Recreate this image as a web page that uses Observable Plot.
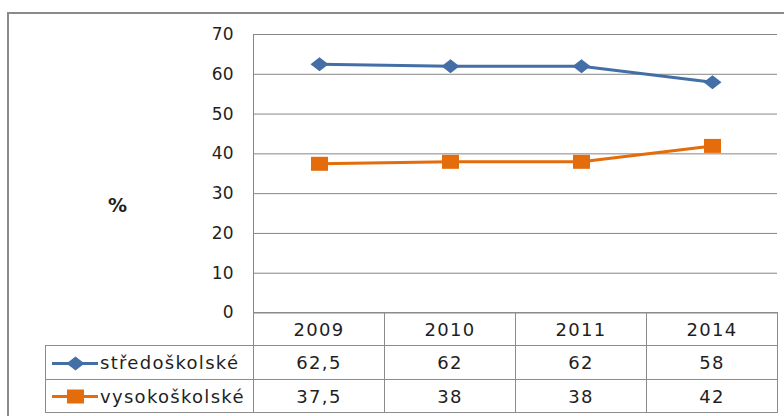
<!DOCTYPE html>
<html>
<head>
<meta charset="utf-8">
<script src="https://cdn.jsdelivr.net/npm/d3@7"></script>
<script src="https://cdn.jsdelivr.net/npm/@observablehq/plot@0.6"></script>
<style>
  html, body { margin: 0; padding: 0; background: #fff; }
  #wrap { position: relative; width: 784px; height: 416px; overflow: hidden; font-family: "DejaVu Sans", sans-serif; }
  #border { position: absolute; left: 7px; top: 12px; width: 820px; height: 440px;
            border-top: 2px solid #8a8a8a; border-left: 2px solid #8a8a8a; }
  #chart { position: absolute; left: 0; top: 0; }
  #tbl { position: absolute; left: 45px; top: 312px; border-collapse: collapse; table-layout: fixed;
         width: 732px; font-size: 18px; letter-spacing: 1.3px; color: #1f1f1f; }
  #tbl td { border: 1px solid #8c8c8c; padding: 0; text-align: center; vertical-align: middle; }
  #tbl td.blank { border-top: none; border-left: none; }
  #tbl td.key { text-align: left; padding-left: 6px; }
  #tbl .keyin { display: flex; align-items: center; }
  #tbl .keyin svg { display: block; }
  #tbl .keyin span { margin-left: 2px; }
</style>
</head>
<body>
<div id="wrap">
  <div id="border"></div>
  <div id="chart"></div>
  <table id="tbl">
    <colgroup><col style="width:208px"><col style="width:131px"><col style="width:131px"><col style="width:131px"><col style="width:131px"></colgroup>
    <tbody></tbody>
  </table>
</div>
<script>
// Share of graduates by type of education, in %
const years = ["2009", "2010", "2011", "2014"];
const seriesNames = ["středoškolské", "vysokoškolské"];
const stredoskolske = [62.5, 62, 62, 58];
const vysokoskolske = [37.5, 38, 38, 42];
const yTicks = [0, 10, 20, 30, 40, 50, 60, 70];
const seriesColors = ["#436EA6", "#E46C0A"];

const seriesValues = [stredoskolske, vysokoskolske];
const rows = seriesNames.flatMap((s, i) =>
  years.map((year, j) => ({series: s, year, value: seriesValues[i][j]}))
);

// Wide diamond and wide square markers
const diamondWide = {
  draw(ctx) { ctx.moveTo(-9, 0); ctx.lineTo(0, -7); ctx.lineTo(9, 0); ctx.lineTo(0, 7); ctx.closePath(); }
};
const squareWide = {
  draw(ctx) { ctx.rect(-8.5, -7, 17, 14); }
};
const seriesSymbols = [diamondWide, squareWide];

const chart = Plot.plot({
  width: 784,
  height: 416,
  marginLeft: 253,
  marginRight: 7,
  marginTop: 34,
  marginBottom: 103.5,
  style: {fontFamily: "DejaVu Sans, sans-serif", fontSize: "17px", color: "#1f1f1f", background: "none"},
  x: {type: "point", domain: years, padding: 0.5, axis: null},
  y: {domain: [0, 70], axis: null},
  marks: [
    Plot.gridY(yTicks, {stroke: "#868686", strokeOpacity: 1}),
    Plot.frame({anchor: "left", stroke: "#868686"}),
    Plot.axisY(yTicks, {tickSize: 0, tickPadding: 20, fontSize: 17, label: null}),
    Plot.text(["%"], {frameAnchor: "left", textAnchor: "middle", dx: -136, dy: 32, fontSize: 19, fontWeight: "bold"}),
    ...seriesNames.map((s, i) => Plot.line(rows, {
      filter: d => d.series === s, x: "year", y: "value",
      stroke: seriesColors[i], strokeWidth: 3
    })),
    ...seriesNames.map((s, i) => Plot.dot(rows, {
      filter: d => d.series === s, x: "year", y: "value",
      symbol: seriesSymbols[i], fill: seriesColors[i], r: 8
    }))
  ]
});
document.getElementById("chart").append(chart);

// Data table below the chart
const fmt = v => String(v).replace(".", ",");
const tbody = document.querySelector("#tbl tbody");

const head = document.createElement("tr");
head.style.height = "33px";
head.innerHTML = `<td class="blank"></td>` + years.map(y => `<td>${y}</td>`).join("");
tbody.append(head);

seriesNames.forEach((s, i) => {
  const tr = document.createElement("tr");
  tr.style.height = i === 0 ? "34px" : "33px";
  const key = document.createElement("td");
  key.className = "key";
  const inner = document.createElement("div");
  inner.className = "keyin";
  const swatch = Plot.plot({
    width: 46, height: 20, margin: 0,
    style: {background: "none"},
    x: {domain: [0, 1], axis: null},
    y: {domain: [0, 1], axis: null},
    marks: [
      Plot.ruleY([0.5], {stroke: seriesColors[i], strokeWidth: 3}),
      Plot.dot([0.5], {x: d => d, y: d => d, symbol: seriesSymbols[i], fill: seriesColors[i], r: 8})
    ]
  });
  const label = document.createElement("span");
  label.textContent = s;
  inner.append(swatch, label);
  key.append(inner);
  tr.append(key);
  seriesValues[i].forEach(v => {
    const td = document.createElement("td");
    td.textContent = fmt(v);
    tr.append(td);
  });
  tbody.append(tr);
});
</script>
</body>
</html>
